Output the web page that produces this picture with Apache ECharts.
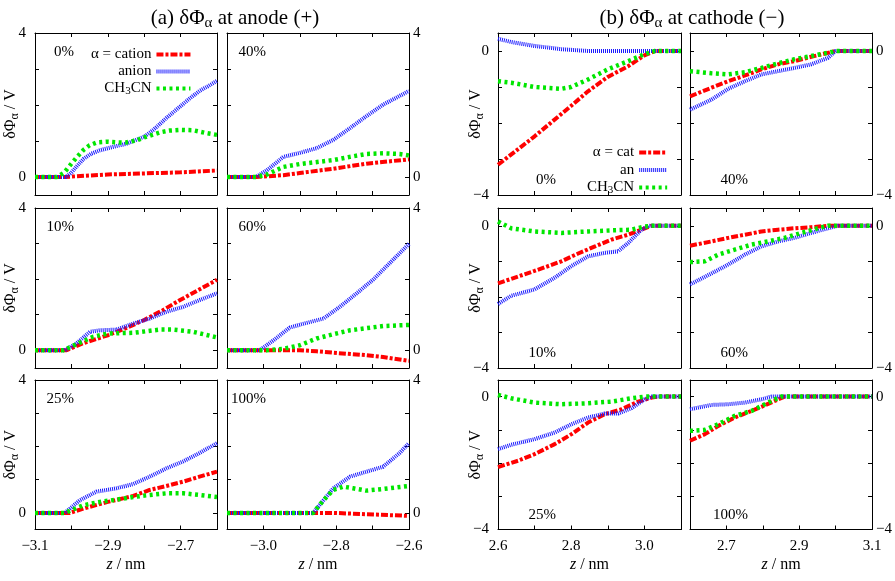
<!DOCTYPE html>
<html><head><meta charset="utf-8">
<script src="https://cdn.jsdelivr.net/npm/echarts@6/dist/echarts.min.js"></script>
<style>html,body{margin:0;padding:0;background:#fff}#c{width:895px;height:581px}</style>
</head><body><div id="c"></div>
<script>
// ---------- DATA (z in nm, deltaPhi in V) ----------
// (a) anode
const a0_cation = [[-3.10,0],[-3.02,0],[-2.90,0.07],[-2.80,0.10],[-2.70,0.13],[-2.60,0.18]];
const a0_anion = [[-3.10,0],[-3.015,0],[-3.00,0.12],[-2.985,0.30],[-2.967,0.50],[-2.945,0.65],[-2.922,0.74],[-2.90,0.80],[-2.876,0.86],[-2.85,0.92],[-2.83,1.00],[-2.80,1.12],[-2.776,1.30],[-2.757,1.47],[-2.739,1.64],[-2.72,1.80],[-2.70,1.97],[-2.675,2.18],[-2.648,2.39],[-2.625,2.52],[-2.60,2.67]];
const a0_ch3cn = [[-3.10,0],[-3.04,0],[-3.02,0.12],[-3.00,0.37],[-2.985,0.55],[-2.967,0.75],[-2.95,0.88],[-2.93,0.96],[-2.90,0.98],[-2.87,0.96],[-2.85,0.96],[-2.82,1.02],[-2.80,1.10],[-2.775,1.18],[-2.757,1.24],[-2.73,1.29],[-2.70,1.31],[-2.666,1.30],[-2.63,1.22],[-2.60,1.17]];

const a40_cation = [[-3.10,0],[-3.02,0],[-2.945,0.05],[-2.90,0.11],[-2.808,0.23],[-2.717,0.37],[-2.60,0.49]];
const a40_anion = [[-3.10,0],[-3.02,0],[-2.99,0.19],[-2.945,0.56],[-2.90,0.67],[-2.854,0.80],[-2.808,1.03],[-2.762,1.36],[-2.717,1.69],[-2.671,2.01],[-2.60,2.39]];
const a40_ch3cn = [[-3.10,0],[-3.02,0],[-2.99,0.07],[-2.945,0.28],[-2.90,0.36],[-2.808,0.47],[-2.762,0.56],[-2.717,0.64],[-2.671,0.66],[-2.626,0.64],[-2.60,0.60]];

const a10_cation = [[-3.10,0],[-3.013,0],[-2.967,0.20],[-2.90,0.42],[-2.85,0.62],[-2.80,0.85],[-2.75,1.12],[-2.70,1.42],[-2.65,1.70],[-2.60,1.98]];
const a10_anion = [[-3.10,0],[-3.018,0],[-2.986,0.19],[-2.949,0.52],[-2.922,0.56],[-2.876,0.58],[-2.83,0.75],[-2.785,0.89],[-2.739,1.08],[-2.693,1.22],[-2.648,1.41],[-2.60,1.60]];
const a10_ch3cn = [[-3.10,0],[-3.022,0],[-2.977,0.21],[-2.94,0.38],[-2.90,0.47],[-2.83,0.49],[-2.757,0.58],[-2.721,0.58],[-2.666,0.52],[-2.60,0.36]];

const a60_cation = [[-3.10,0],[-2.90,0],[-2.854,-0.03],[-2.808,-0.07],[-2.717,-0.14],[-2.671,-0.19],[-2.60,-0.30]];
const a60_anion = [[-3.10,0],[-3.01,0],[-2.972,0.28],[-2.927,0.64],[-2.881,0.77],[-2.835,0.89],[-2.79,1.22],[-2.744,1.60],[-2.699,1.98],[-2.653,2.45],[-2.60,2.99]];
const a60_ch3cn = [[-3.10,0],[-2.99,0],[-2.945,0.04],[-2.90,0.14],[-2.854,0.33],[-2.808,0.45],[-2.762,0.56],[-2.717,0.62],[-2.671,0.68],[-2.60,0.71]];

const a25_cation = [[-3.10,0],[-3.004,0],[-2.967,0.13],[-2.90,0.33],[-2.83,0.51],[-2.785,0.69],[-2.739,0.81],[-2.693,0.94],[-2.648,1.09],[-2.60,1.24]];
const a25_anion = [[-3.10,0],[-3.018,0],[-2.977,0.38],[-2.931,0.64],[-2.876,0.74],[-2.83,0.87],[-2.785,1.09],[-2.739,1.34],[-2.693,1.55],[-2.648,1.80],[-2.60,2.10]];
const a25_ch3cn = [[-3.10,0],[-3.018,0],[-2.967,0.23],[-2.922,0.33],[-2.876,0.40],[-2.83,0.48],[-2.785,0.54],[-2.739,0.59],[-2.693,0.59],[-2.648,0.54],[-2.60,0.48]];

const a100_cation = [[-3.10,0],[-2.808,0],[-2.717,-0.04],[-2.60,-0.09]];
const a100_anion = [[-3.10,0],[-2.863,0],[-2.835,0.38],[-2.808,0.74],[-2.762,1.09],[-2.717,1.24],[-2.671,1.39],[-2.626,1.80],[-2.60,2.10]];
const a100_ch3cn = [[-3.10,0],[-2.863,0],[-2.835,0.38],[-2.808,0.69],[-2.781,0.79],[-2.753,0.74],[-2.717,0.67],[-2.671,0.72],[-2.60,0.81]];

// (b) cathode
const b0_cation = [[2.60,-3.16],[2.70,-2.37],[2.80,-1.52],[2.846,-1.12],[2.90,-0.72],[2.956,-0.42],[3.00,-0.12],[3.029,0],[3.10,0]];
const b0_anion = [[2.60,0.34],[2.636,0.25],[2.70,0.14],[2.773,0.05],[2.846,0],[3.10,0]];
const b0_ch3cn = [[2.60,-0.84],[2.636,-0.88],[2.70,-1.00],[2.773,-1.05],[2.80,-1.00],[2.846,-0.79],[2.90,-0.51],[2.956,-0.28],[3.00,-0.09],[3.029,0],[3.10,0]];

const b40_cation = [[2.60,-1.26],[2.659,-1.02],[2.705,-0.84],[2.751,-0.68],[2.796,-0.51],[2.842,-0.37],[2.887,-0.28],[2.933,-0.16],[2.988,-0.03],[3.00,0],[3.10,0]];
const b40_anion = [[2.60,-1.63],[2.659,-1.35],[2.705,-1.05],[2.751,-0.84],[2.796,-0.65],[2.842,-0.56],[2.887,-0.47],[2.933,-0.37],[2.979,-0.19],[3.00,0],[3.10,0]];
const b40_ch3cn = [[2.60,-0.56],[2.659,-0.62],[2.705,-0.65],[2.751,-0.59],[2.796,-0.47],[2.842,-0.34],[2.887,-0.23],[2.933,-0.14],[2.988,-0.03],[3.00,0],[3.10,0]];

const b10_cation = [[2.60,-1.62],[2.70,-1.27],[2.773,-1.00],[2.819,-0.78],[2.865,-0.58],[2.91,-0.39],[2.956,-0.25],[3.001,-0.07],[3.02,0],[3.10,0]];
const b10_anion = [[2.60,-2.20],[2.636,-1.97],[2.70,-1.79],[2.755,-1.46],[2.801,-1.13],[2.846,-0.86],[2.892,-0.76],[2.928,-0.72],[2.956,-0.48],[2.992,-0.11],[3.011,0],[3.10,0]];
const b10_ch3cn = [[2.60,0.12],[2.636,-0.07],[2.70,-0.16],[2.773,-0.20],[2.846,-0.16],[2.91,-0.13],[2.965,-0.11],[3.001,-0.02],[3.02,0],[3.10,0]];

const b60_cation = [[2.60,-0.56],[2.659,-0.44],[2.705,-0.34],[2.751,-0.25],[2.796,-0.16],[2.842,-0.11],[2.887,-0.07],[2.933,-0.04],[2.979,0],[3.10,0]];
const b60_anion = [[2.60,-1.65],[2.659,-1.34],[2.705,-1.09],[2.751,-0.81],[2.796,-0.58],[2.842,-0.44],[2.887,-0.34],[2.933,-0.20],[2.979,-0.07],[3.006,0],[3.10,0]];
const b60_ch3cn = [[2.60,-1.02],[2.641,-1.00],[2.678,-0.81],[2.723,-0.67],[2.769,-0.53],[2.814,-0.44],[2.86,-0.34],[2.906,-0.20],[2.951,-0.07],[2.979,0],[3.10,0]];

const b25_cation = [[2.60,-2.12],[2.655,-1.93],[2.70,-1.73],[2.755,-1.43],[2.801,-1.13],[2.846,-0.78],[2.892,-0.53],[2.938,-0.38],[2.983,-0.15],[3.02,-0.03],[3.038,0],[3.10,0]];
const b25_anion = [[2.60,-1.58],[2.636,-1.45],[2.70,-1.28],[2.755,-1.08],[2.801,-0.83],[2.846,-0.63],[2.892,-0.51],[2.928,-0.51],[2.965,-0.35],[3.001,-0.08],[3.02,0],[3.10,0]];
const b25_ch3cn = [[2.60,0.05],[2.636,-0.05],[2.70,-0.18],[2.773,-0.23],[2.846,-0.20],[2.91,-0.15],[2.965,-0.05],[3.001,0],[3.10,0]];

const b100_cation = [[2.60,-1.33],[2.641,-1.13],[2.678,-0.88],[2.723,-0.63],[2.769,-0.43],[2.796,-0.31],[2.833,-0.13],[2.86,0],[3.10,0]];
const b100_anion = [[2.60,-0.38],[2.659,-0.25],[2.705,-0.23],[2.751,-0.18],[2.796,-0.08],[2.824,0],[3.10,0]];
const b100_ch3cn = [[2.60,-1.03],[2.641,-1.00],[2.678,-0.83],[2.723,-0.58],[2.769,-0.43],[2.796,-0.28],[2.824,-0.13],[2.851,0],[3.10,0]];

// tick labels
const anodeXTicksLeft = [-3.1, -2.9, -2.7];
const anodeXTicksRight = [-3.0, -2.8, -2.6];
const cathodeXTicksLeft = [2.6, 2.8, 3.0];
const cathodeXTicksRight = [2.7, 2.9, 3.1];
const anodeYTicks = [0, 4];
const cathodeYTicks = [-4, 0];
const namesA = ['α = cation', 'anion', 'CH3CN'];
const namesB = ['α = cat', 'an', 'CH3CN'];

// ---------- LAYOUT / STYLE ----------
const FONT = '"Liberation Serif", "DejaVu Serif", serif';
const MINUS = '\u2212';
const fmtNum = (v, d) => (v < -1e-9 ? MINUS : '') + Math.abs(v).toFixed(d);
const ROWS = [{top: 33, h: 162}, {top: 208, h: 160}, {top: 380, h: 149.5}];
const COLS = {a: [35, 227], b: [498, 690]};
const WID = {a: 182, b: 183};
const STY = [
  {color: '#ff0000', width: 4, type: [7, 2, 3, 2]},
  {color: '#1a1aff', width: 4, type: [1, 1]},
  {color: '#00e600', width: 4.5, type: [3, 3.5]}
];
const richSub = {
  n: {fontFamily: FONT, fontSize: 16, lineHeight: 20, color: '#000'},
  s: {fontFamily: FONT, fontSize: 12, lineHeight: 8, verticalAlign: 'bottom', color: '#000'}
};

const panelsA = [
  {row: 0, col: 0, label: '0%', data: [a0_cation, a0_anion, a0_ch3cn]},
  {row: 0, col: 1, label: '40%', data: [a40_cation, a40_anion, a40_ch3cn]},
  {row: 1, col: 0, label: '10%', data: [a10_cation, a10_anion, a10_ch3cn]},
  {row: 1, col: 1, label: '60%', data: [a60_cation, a60_anion, a60_ch3cn]},
  {row: 2, col: 0, label: '25%', data: [a25_cation, a25_anion, a25_ch3cn]},
  {row: 2, col: 1, label: '100%', data: [a100_cation, a100_anion, a100_ch3cn]}
];
const panelsB = [
  {row: 0, col: 0, label: '0%', data: [b0_cation, b0_anion, b0_ch3cn]},
  {row: 0, col: 1, label: '40%', data: [b40_cation, b40_anion, b40_ch3cn]},
  {row: 1, col: 0, label: '10%', data: [b10_cation, b10_anion, b10_ch3cn]},
  {row: 1, col: 1, label: '60%', data: [b60_cation, b60_anion, b60_ch3cn]},
  {row: 2, col: 0, label: '25%', data: [b25_cation, b25_anion, b25_ch3cn]},
  {row: 2, col: 1, label: '100%', data: [b100_cation, b100_anion, b100_ch3cn]}
];

const grids = [], xAxes = [], yAxes = [], series = [], graphics = [];
const axLine = {show: true, onZero: false, lineStyle: {color: '#000', width: 1}};
const axTick = {show: true, inside: true, length: 4, lineStyle: {color: '#000', width: 1}};
const labelBase = {fontFamily: FONT, fontSize: 15, color: '#000', showMinLabel: true, showMaxLabel: true};

function addGroup(g, panels, names) {
  const isA = g === 'a';
  panels.forEach(p => {
    const gi = grids.length;
    const left = COLS[g][p.col], width = WID[g], r = ROWS[p.row];
    grids.push({left: left, top: r.top, width: width, height: r.h});
    const xMin = isA ? -3.1 : 2.6, xMax = isA ? -2.6 : 3.1;
    const xT = isA ? (p.col === 0 ? anodeXTicksLeft : anodeXTicksRight) : (p.col === 0 ? cathodeXTicksLeft : cathodeXTicksRight);
    const yT = isA ? anodeYTicks : cathodeYTicks;
    const bottom = p.row === 2;
    const xb = {type: 'value', gridIndex: gi, min: xMin, max: xMax, interval: 0.1, splitLine: {show: false}, axisLine: axLine, axisTick: axTick};
    xAxes.push(Object.assign({}, xb, {
      position: 'bottom',
      axisLabel: Object.assign({}, labelBase, {show: bottom, margin: 9, formatter: v => xT.some(t => Math.abs(t - v) < 1e-6) ? fmtNum(v, 1) : ''}),
      name: bottom ? '{i|z} / nm' : '', nameLocation: 'middle', nameGap: 27, nameMoveOverlap: false,
      nameTextStyle: {fontFamily: FONT, fontSize: 16, color: '#000', rich: {i: {fontFamily: FONT, fontSize: 16, fontStyle: 'italic', color: '#000'}}}
    }));
    xAxes.push(Object.assign({}, xb, {position: 'top', axisLabel: {show: false}}));
    const yb = isA
      ? {type: 'value', gridIndex: gi, min: -0.5, max: 4, splitNumber: 5}
      : {type: 'value', gridIndex: gi, min: -4, max: 0.5, interval: 1};
    Object.assign(yb, {splitLine: {show: false}, axisLine: axLine, axisTick: axTick});
    const yFmt = v => yT.some(t => Math.abs(t - v) < 1e-6) ? fmtNum(v, 0) : '';
    yAxes.push(Object.assign({}, yb, {
      position: 'left',
      axisLabel: Object.assign({}, labelBase, {show: p.col === 0, margin: 9, formatter: yFmt}),
      name: p.col === 0 ? '{n|δΦ}{s|α}{n| / V}' : '', nameLocation: 'middle', nameRotate: 90, nameGap: isA ? 14 : 12,
      nameMoveOverlap: false,
      nameTextStyle: {fontFamily: FONT, fontSize: 16, color: '#000', rich: richSub}
    }));
    yAxes.push(Object.assign({}, yb, {
      position: 'right',
      axisLabel: Object.assign({}, labelBase, {show: p.col === 1, margin: 4, formatter: yFmt})
    }));
    p.data.forEach((d, k) => {
      series.push({
        type: 'line', name: names[k], xAxisIndex: 2 * gi, yAxisIndex: 2 * gi, data: d,
        showSymbol: false, symbol: 'none', clip: true, z: 2 + k,
        itemStyle: {color: STY[k].color},
        lineStyle: {color: STY[k].color, width: STY[k].width, type: STY[k].type, cap: 'butt'}
      });
    });
    const lx = left + (isA ? 39 : 58);
    const ly = isA ? r.top + 19 : r.top + r.h - 14.5;
    graphics.push({type: 'text', x: lx, y: ly, z: 100,
      style: {text: p.label, align: 'right', verticalAlign: 'middle', fontFamily: FONT, fontSize: 15, fill: '#000'}});
  });
}
addGroup('a', panelsA, namesA);
addGroup('b', panelsB, namesB);

const legFmt = name => name === 'CH3CN' ? '{n|CH}{s|3}{n|CN}' : '{n|' + name + '}';
const legRich = {
  n: {fontFamily: FONT, fontSize: 15, lineHeight: 16, color: '#000'},
  s: {fontFamily: FONT, fontSize: 11, lineHeight: 8, verticalAlign: 'bottom', color: '#000'}
};
const legItemStyle = {color: 'rgba(0,0,0,0)', borderColor: 'rgba(0,0,0,0)', borderWidth: 0, opacity: 0};
const legLineStyle = {width: 4};

const titleRich = {
  s: {fontFamily: FONT, fontSize: 15, lineHeight: 12, verticalAlign: 'bottom', color: '#000'}
};
const option = {
  animation: false,
  backgroundColor: '#fff',
  title: [
    {text: '(a) δΦ{s|α} at anode (+)', left: 230, top: 0, textAlign: 'center',
     textStyle: {fontFamily: FONT, fontSize: 21, fontWeight: 'normal', color: '#000', lineHeight: 26, rich: titleRich}},
    {text: '(b) δΦ{s|α} at cathode (' + MINUS + ')', left: 687, top: 0, textAlign: 'center',
     textStyle: {fontFamily: FONT, fontSize: 21, fontWeight: 'normal', color: '#000', lineHeight: 26, rich: titleRich}}
  ],
  legend: [
    {data: namesA, orient: 'vertical', align: 'right', left: 86, top: 42, itemWidth: 34, itemHeight: 14, itemGap: 2,
     selectedMode: false, formatter: legFmt, itemStyle: legItemStyle, lineStyle: legLineStyle,
     textStyle: {width: 72, align: 'right', fontFamily: FONT, fontSize: 15, color: '#000', rich: legRich}},
    {data: namesB, orient: 'vertical', align: 'right', left: 582, top: 140, itemWidth: 28, itemHeight: 14, itemGap: 2.5,
     selectedMode: false, formatter: legFmt, itemStyle: legItemStyle, lineStyle: legLineStyle,
     textStyle: {width: 56, align: 'right', fontFamily: FONT, fontSize: 15, color: '#000', rich: legRich}}
  ],
  grid: grids,
  xAxis: xAxes,
  yAxis: yAxes,
  series: series,
  graphic: graphics
};
const chart = echarts.init(document.getElementById('c'), null, {renderer: 'canvas'});
chart.setOption(option);
</script></body></html>
